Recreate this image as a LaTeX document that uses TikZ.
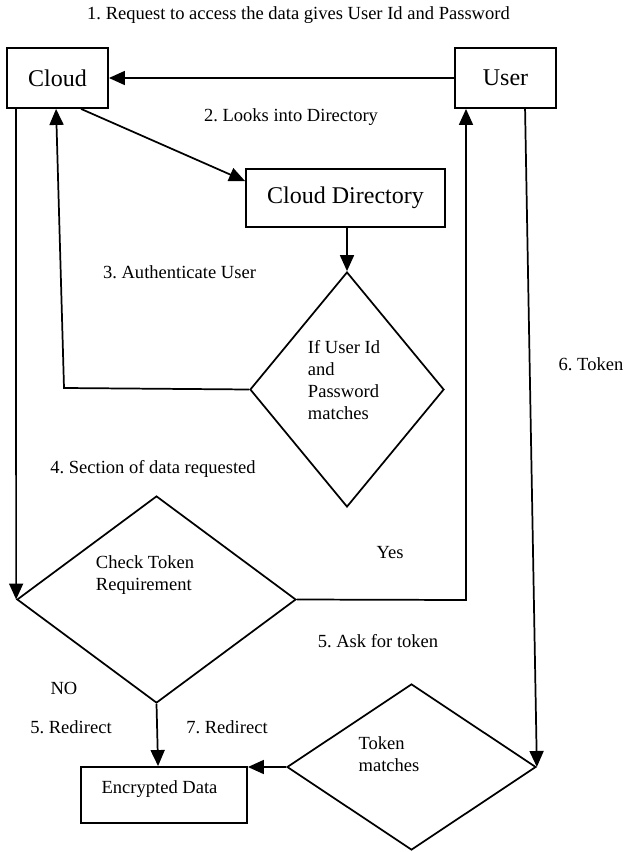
\documentclass[tikz,border=0pt]{standalone}
\usepackage{fontspec}
\setmainfont{Liberation Serif}
\usetikzlibrary{arrows.meta,calc,shapes.geometric}
\frenchspacing
\begin{document}
\begin{tikzpicture}[x=0.75pt,y=-0.75pt,
  box/.style={draw,line width=1.4pt,inner sep=0pt},
  dia/.style={draw,diamond,line width=1.3pt,inner sep=0pt},
  flow/.style={line width=1.3pt,-{Triangle[length=12pt,width=10.5pt]}},
  big/.style={font=\fontsize{18}{21}\selectfont},
  small/.style={font=\fontsize{13.9}{16.5}\selectfont,inner sep=0pt},
  lbl/.style={small,align=left}]
\useasboundingbox (0,0) rectangle (625,852);

% boxes
\node[box,big,minimum width=75.75pt,minimum height=45pt] (cloud) at (57.5,78) {Cloud};
\node[box,big,minimum width=75.75pt,minimum height=45pt] (user) at (505.5,78) {User};
\node[box,big,minimum width=149.25pt,minimum height=43.5pt] (dir) at (345.5,198) {Cloud Directory};
\node[box,minimum width=124.5pt,minimum height=42pt] (enc) at (164,795) {};
\node[small] (enctxt) at (159.5,789) {Encrypted Data};

% decisions
\node[dia,minimum width=145.5pt,minimum height=176.25pt] (auth) at (347,389.5) {};
\node[lbl] (authtxt) at (344,380) {If User Id\\and\\Password\\matches};
\node[dia,minimum width=209.25pt,minimum height=155.25pt] (chk) at (156.5,599.5) {};
\node[lbl] (chktxt) at (145,575) {Check Token\\Requirement};
\node[dia,minimum width=186.75pt,minimum height=124.5pt] (tok) at (411.5,767) {};
\node[lbl] (toktxt) at (389,754.5) {Token\\matches};

% bend points
\coordinate (authc) at (64,388);
\coordinate (yesc) at (466,600);

% connectors
\draw[flow] (user.west) -- (cloud.east);
\draw[flow] ($(cloud.south west)+(75,0)$) -- ($(dir.north west)+(0,13)$);
\draw[flow] (auth.north |- dir.south) -- (auth.north);
\draw[flow] (auth.west) -- (authc) -- ($(cloud.south west)+(50,0)$);
\draw[flow] ($(cloud.south west)+(10,0)$) -- (chk.west);
\draw[flow] (chk.east) -- (yesc) -- (yesc |- user.south);
\draw[flow] (chk.south) -- ($(enc.north west)+(78,0)$);
\draw[flow] ($(user.south west)+(71,0)$) -- (tok.east);
\draw[flow] (tok.west) -- (tok.west -| enc.east);

% labels
\node[small] (l1) at (298.5,15) {1. Request to access the data gives User Id and Password};
\node[small] (l2) at (291,117) {2. Looks into Directory};
\node[small] (l3) at (179.5,272) {3. Authenticate User};
\node[small] (l4) at (153,469) {4. Section of data requested};
\node[small] (lyes) at (390,553) {Yes};
\node[small] (l5a) at (378,641) {5. Ask for token};
\node[small] (lno) at (64,688) {NO};
\node[small] (l5r) at (71,727) {5. Redirect};
\node[small] (l7r) at (227,727) {7. Redirect};
\node[small] (l6) at (591,364) {6. Token};
\end{tikzpicture}
\end{document}
